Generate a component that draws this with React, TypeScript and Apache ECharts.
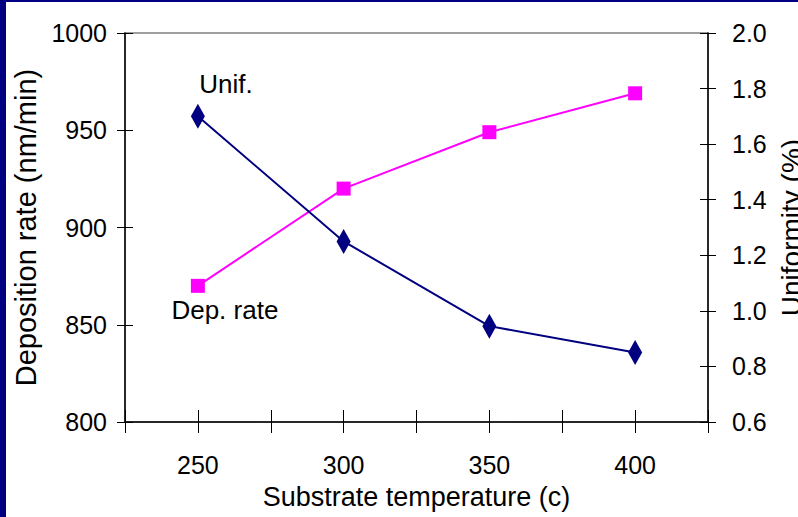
import React, { useEffect, useRef } from "react";
import * as echarts from "echarts";

const temperatures = [250, 300, 350, 400];
const depRate = [870, 920, 949, 969];
const uniformity = [1.7, 1.25, 0.945, 0.85];
const xTickLabels = [250, 300, 350, 400];

const FONT = "'Liberation Sans', Arial, Helvetica, sans-serif";
const NAVY = "#000080";
const PINK = "#FF00FF";

export default function App() {
  const ref = useRef<HTMLDivElement>(null);
  useEffect(() => {
    if (!ref.current) return;
    const chart = echarts.init(ref.current, undefined, { renderer: "svg" });
    const xBase = { type: "value", min: 225, max: 425, interval: 25, position: "bottom", gridIndex: 0 };
    const yLeftBase = { type: "value", position: "left", min: 800, max: 1000, interval: 50 };
    const yRightBase = { type: "value", position: "right", min: 0.6, max: 2.0, interval: 0.2 };
    const axisLineStyle = { show: true, lineStyle: { color: "#000", width: 1.5 } };
    const tickStyle = { color: "#000", width: 1 };
    const labelBase = { fontSize: 25, color: "#000", fontFamily: FONT };
    const nameStyle = { fontSize: 27, color: "#000", fontFamily: FONT };
    chart.setOption({
      animation: false,
      backgroundColor: "#fff",
      textStyle: { fontFamily: FONT },
      grid: {
        left: 125,
        top: 33,
        right: 90,
        bottom: 95,
        containLabel: false,
        outerBoundsMode: "none",
        show: true,
        borderColor: "#808080",
        borderWidth: 1.5,
        backgroundColor: "transparent",
      },
      graphic: [
        { type: "rect", shape: { x: 0, y: 0, width: 6, height: 517 }, style: { fill: NAVY }, z: 100 },
        { type: "rect", shape: { x: 0, y: 0, width: 798, height: 2 }, style: { fill: NAVY }, z: 100 },
      ],
      xAxis: [
        {
          ...xBase,
          axisLine: axisLineStyle,
          axisTick: { show: true, inside: true, length: 12, lineStyle: tickStyle },
          axisLabel: {
            ...labelBase,
            margin: 30,
            formatter: (v: number) => (xTickLabels.includes(v) ? String(v) : ""),
          },
          splitLine: { show: false },
          name: "Substrate temperature (c)",
          nameLocation: "middle",
          nameGap: 61,
          nameTextStyle: nameStyle,
        },
        {
          ...xBase,
          axisLine: { show: false },
          axisTick: { show: true, inside: false, length: 11, lineStyle: tickStyle },
          axisLabel: { show: false },
          splitLine: { show: false },
        },
      ],
      yAxis: [
        {
          ...yLeftBase,
          axisLine: axisLineStyle,
          axisTick: { show: true, inside: true, length: 8, lineStyle: tickStyle },
          axisLabel: { ...labelBase, margin: 18, formatter: (v: number) => String(v) },
          splitLine: { show: false },
          name: "Deposition rate (nm/min)",
          nameLocation: "middle",
          nameGap: 79,
          nameRotate: 90,
          nameTextStyle: { ...nameStyle, fontSize: 29 },
        },
        {
          ...yRightBase,
          axisLine: axisLineStyle,
          axisTick: { show: true, inside: true, length: 8, lineStyle: tickStyle },
          axisLabel: { ...labelBase, margin: 24, formatter: (v: number) => v.toFixed(1) },
          splitLine: { show: false },
          name: "Uniformity (%)",
          nameLocation: "middle",
          nameGap: 69,
          nameRotate: 90,
          nameTextStyle: { ...nameStyle, fontSize: 28 },
        },
        {
          ...yLeftBase,
          axisLine: { show: false },
          axisTick: { show: true, inside: false, length: 8, lineStyle: tickStyle },
          axisLabel: { show: false },
          splitLine: { show: false },
        },
        {
          ...yRightBase,
          axisLine: { show: false },
          axisTick: { show: true, inside: false, length: 8, lineStyle: tickStyle },
          axisLabel: { show: false },
          splitLine: { show: false },
        },
      ],
      series: [
        {
          type: "line",
          name: "Dep. rate",
          xAxisIndex: 0,
          yAxisIndex: 0,
          symbol: "rect",
          symbolSize: 14,
          lineStyle: { color: PINK, width: 2 },
          itemStyle: { color: PINK },
          data: temperatures.map((t, i) =>
            i === 0
              ? {
                  value: [t, depRate[i]],
                  label: {
                    show: true,
                    formatter: "Dep. rate",
                    position: "inside",
                    offset: [27, 24],
                    fontSize: 26,
                    color: "#000",
                    fontFamily: FONT,
                  },
                }
              : { value: [t, depRate[i]] }
          ),
        },
        {
          type: "line",
          name: "Unif.",
          xAxisIndex: 0,
          yAxisIndex: 1,
          symbol: "diamond",
          symbolSize: [14, 25],
          lineStyle: { color: NAVY, width: 2 },
          itemStyle: { color: NAVY },
          data: temperatures.map((t, i) =>
            i === 0
              ? {
                  value: [t, uniformity[i]],
                  label: {
                    show: true,
                    formatter: "Unif.",
                    position: "inside",
                    offset: [28, -32],
                    fontSize: 26,
                    color: "#000",
                    fontFamily: FONT,
                  },
                }
              : { value: [t, uniformity[i]] }
          ),
        },
      ],
    });
    return () => chart.dispose();
  }, []);
  return (
    <div
      ref={ref}
      style={{ position: "fixed", left: 0, top: 0, width: 798, height: 517, background: "#fff" }}
    />
  );
}
